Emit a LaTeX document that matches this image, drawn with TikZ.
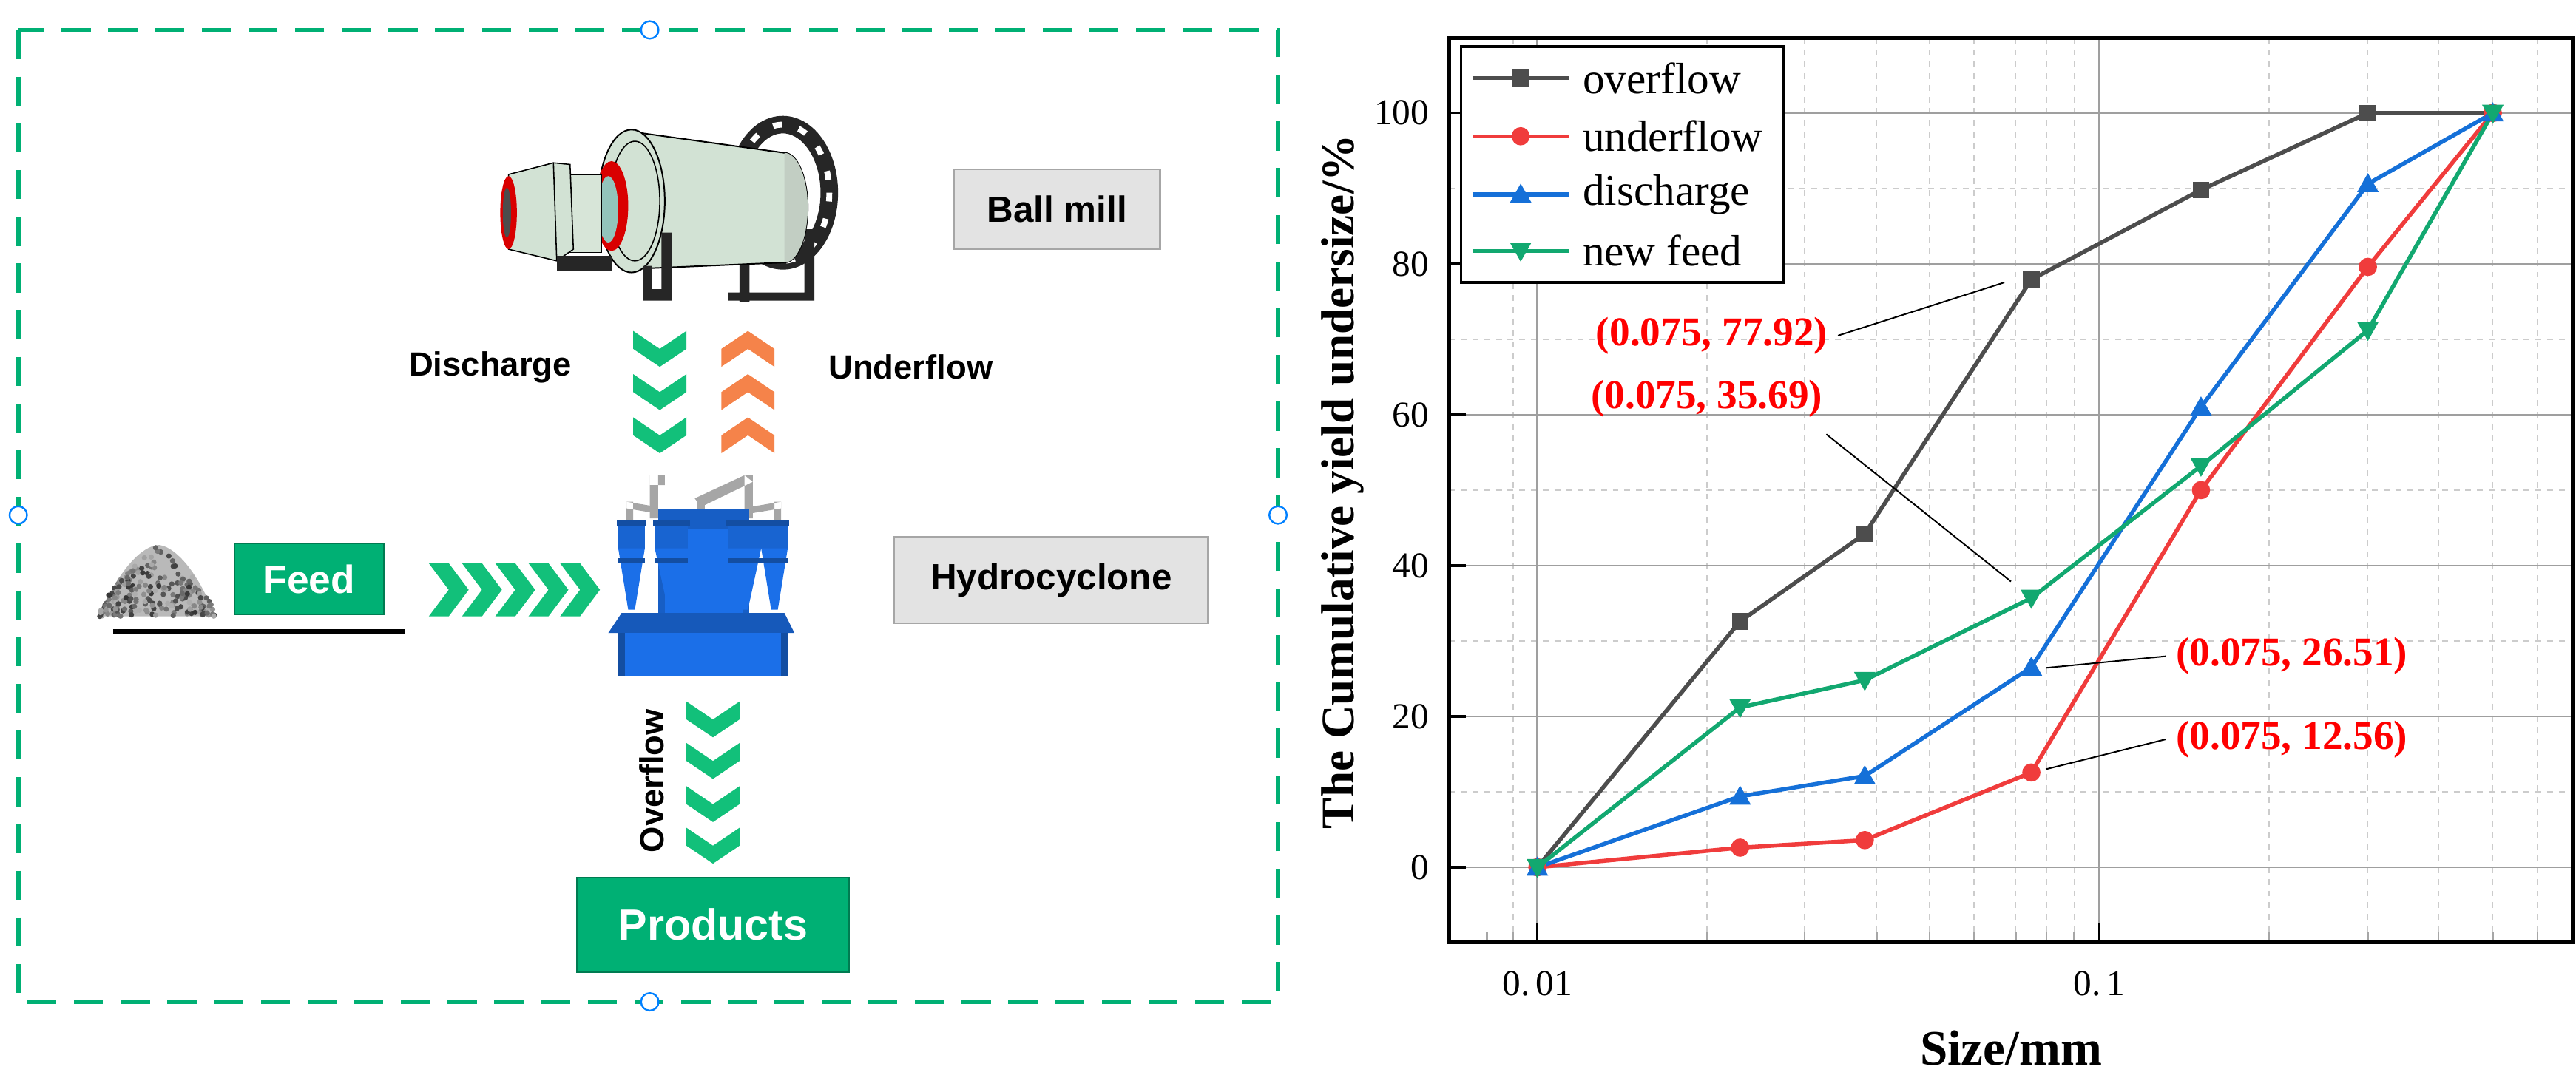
\documentclass[tikz,border=0pt]{standalone}
\usepackage{fontspec}
\setmainfont{Liberation Serif}
\setsansfont{Liberation Sans}
\usetikzlibrary{shapes.geometric}
\definecolor{fgreen}{HTML}{00B074}
\definecolor{chgreen}{HTML}{12C07A}
\definecolor{chorange}{HTML}{F5834A}
\definecolor{lblgray}{HTML}{E3E3E3}
\definecolor{ovc}{HTML}{4D4D4D}
\definecolor{unc}{HTML}{F03C3C}
\definecolor{dic}{HTML}{1570D8}
\definecolor{nfc}{HTML}{12A870}
\definecolor{mill}{HTML}{D2E2D4}
\definecolor{hblue}{HTML}{1B6FE8}
\tikzset{
  lbl/.style={draw=gray!70, fill=lblgray, line width=0.6pt, font=\sffamily\bfseries\fontsize{12.5}{14}\selectfont, inner sep=0pt},
  gbox/.style={fill=fgreen, draw=fgreen!70!black, line width=0.5pt, text=white, inner sep=0pt},
  flowtxt/.style={font=\sffamily\bfseries\fontsize{11.5}{13}\selectfont},
  chev/.pic={\fill (-12,-16) -- (0,-16) -- (12,0) -- (0,16) -- (-12,16) -- (0,0) -- cycle;},
  handle/.style={circle, draw=blue!50!cyan, fill=white, line width=0.6pt, minimum size=6pt, inner sep=0pt},
  serieL/.style={line width=1.4pt},
  tick/.style={font=\fontsize{12.5}{14}\selectfont},
  anno/.style={text=red, font=\bfseries\fontsize{14}{16}\selectfont},
  grid major/.style={gray!75, line width=0.6pt},
  grid minor/.style={gray!40, line width=0.4pt, dash pattern=on 2pt off 2pt},
}
\begin{document}
\begin{tikzpicture}[x=0.02cm,y=-0.02cm,
  declare function={lx(\v)=1602+339*log10(\v); ly(\v)=522-4.54*\v;}]
\useasboundingbox (0,0) rectangle (1550,647);
% ===== left panel =====
\draw[fgreen, line width=1.5pt, dash pattern=on 10pt off 6pt] (11,18) rectangle (769,603);
\node[handle] (h1) at (391,18) {};
\node[handle] (h2) at (11,310) {};
\node[handle] (h3) at (769,310) {};
\node[handle] (h4) at (391,603) {};
% ball mill
\begin{scope}
 \draw[black!85, line width=6pt] (471,116) ellipse [x radius=28, y radius=41];
 \draw[white, line width=2pt, dash pattern=on 3pt off 6pt] (471,116) ellipse [x radius=28, y radius=41];
 \fill[black!85] (445,140) rectangle (451,182) (438,176) rectangle (490,181) (484,138) rectangle (490,181);
 \filldraw[fill=mill, draw=black, line width=0.5pt] (378,79) -- (472,92) arc[start angle=-90, end angle=90, x radius=14, y radius=33] -- (378,162) -- cycle;
 \fill[mill!80!gray] (472,92) arc[start angle=-90, end angle=90, x radius=14, y radius=33] -- cycle;
 \filldraw[fill=mill, draw=black, line width=0.5pt] (380,121) ellipse [x radius=20, y radius=43];
 \draw[black, line width=0.4pt] (382,121) ellipse [x radius=15, y radius=36];
 \fill[red!85!black] (368,124) ellipse [x radius=10, y radius=27];
 \fill[mill!70!teal] (366,126) ellipse [x radius=6, y radius=20];
 \filldraw[fill=mill!90!white, draw=black, line width=0.4pt] (340,105) rectangle (362,152);
 \filldraw[fill=mill, draw=black, line width=0.4pt] (306,105) -- (333,98) -- (343,99) -- (345,150) -- (335,157) -- (306,150) -- cycle;
 \draw[black, line width=0.4pt] (333,98) -- (335,157);
 \fill[red!85!black] (306,128) ellipse [x radius=5, y radius=22];
 \fill[black!70] (305,128) ellipse [x radius=2.5, y radius=15];
 \fill[black!85] (335,154) rectangle (368,163);
 \fill[black!85] (398,140) rectangle (404,181) (387,174) rectangle (404,181) (387,160) rectangle (392,181);
\end{scope}
% hydrocyclone
\begin{scope}
 \fill[gray!70] (391,286) rectangle (396,312) (391,286) -- (400,286) -- (400,292) -- (391,292);
 \fill[gray!70] (448,286) rectangle (453,312) (418,300) -- (448,286) -- (453,290) -- (422,305) -- cycle;
 \fill[gray!70] (419,302) rectangle (424,346);
 \fill[gray!70] (377,302) rectangle (381,318) (377,302) -- (395,305) -- (395,309) -- (377,306);
 \fill[gray!70] (466,302) rectangle (470,318) (452,305) -- (470,302) -- (470,306) -- (452,309);
 \fill[hblue!85!black] (396,306) rectangle (451,369);
 \fill[hblue] (400,318) rectangle (447,369);
 \foreach \cx/\w in {380/8,404/10,448/10,466/8}{
   \fill[hblue!90!black] (\cx-\w,315) rectangle (\cx+\w,330);
   \fill[hblue] (\cx-\w,330) -- (\cx+\w,330) -- (\cx+2,367) -- (\cx-2,367) -- cycle;
   \fill[hblue!70!black] (\cx-\w-1,313) rectangle (\cx+\w+1,317);
   \fill[hblue!70!black] (\cx-\w,336) rectangle (\cx+\w,339);
 }
 \fill[hblue!80!black] (366,381) -- (374,369) -- (472,369) -- (478,381) -- cycle;
 \fill[hblue] (372,381) rectangle (474,407);
 \fill[hblue!70!black] (372,381) rectangle (376,407) (470,381) rectangle (474,407);
\end{scope}
% labels
\node[lbl, minimum width=124*0.02cm, minimum height=48*0.02cm] (ballmill) at (636,126) {Ball mill};
\node[lbl, minimum width=189*0.02cm, minimum height=52*0.02cm] (hydro) at (632.5,349) {Hydrocyclone};
\node[gbox, minimum width=90*0.02cm, minimum height=43*0.02cm, font=\sffamily\bfseries\fontsize{13.5}{15}\selectfont] (feed) at (186,348.5) {Feed};
\node[gbox, minimum width=164*0.02cm, minimum height=57*0.02cm, font=\sffamily\bfseries\fontsize{15}{17}\selectfont] (products) at (429,556.5) {Products};
\coordinate (fl1) at (68,380); \coordinate (fl2) at (244,380);
\draw[black, line width=1.4pt] (fl1) -- (fl2);
% pile
\begin{scope}
\pgfmathsetseed{7}
\fill[gray!55] (60,371) .. controls (70,345) and (85,328) .. (96,328) .. controls (108,330) and (122,350) .. (129,371) -- cycle;
\foreach \i in {1,...,220}{
  \pgfmathsetmacro{\u}{rnd}\pgfmathsetmacro{\v}{rnd}\pgfmathsetmacro{\g}{30+50*rnd}
  \fill[black!\g] ({60+69*\u},{371-\v*42*(1-abs(2*\u-1))^0.6}) circle (1.6);
}
\end{scope}
% chevrons
\foreach \x in {270,290,310,330,349}{\pic[chgreen] at (\x,355) {chev};}
\foreach \y in {210,236,262}{\pic[chgreen, rotate=-90, xscale=0.9] at (397,\y) {chev};}
\foreach \y in {210,236,262}{\pic[chorange, rotate=90, xscale=0.9] at (450,\y) {chev};}
\foreach \y in {433,458,484,509}{\pic[chgreen, rotate=-90, xscale=0.9] at (429,\y) {chev};}
\node[flowtxt] (disch) at (295,221) {Discharge};
\node[flowtxt] (under) at (548,221) {Underflow};
\node[flowtxt, rotate=90] (over) at (392,470) {Overflow};
% ===== chart =====
\foreach \v in {0.008,0.009,0.02,0.03,0.04,0.05,0.06,0.07,0.08,0.09,0.2,0.3,0.4,0.5,0.6}{
  \draw[grid minor] ({lx(\v)},23) -- ({lx(\v)},567);
  \draw[gray!70, line width=0.6pt] ({lx(\v)},567) -- ({lx(\v)},561);}
\foreach \v in {-10,10,30,50,70,90,110}{\draw[grid minor] (872,{ly(\v)}) -- (1548,{ly(\v)});}
\foreach \v in {0.01,0.1}{\draw[grid major] ({lx(\v)},23) -- ({lx(\v)},567);
  \draw[black, line width=0.8pt] ({lx(\v)},567) -- ({lx(\v)},556);}
\foreach \v in {0,20,...,100}{\draw[grid major] (872,{ly(\v)}) -- (1548,{ly(\v)});
  \draw[black, line width=0.8pt] (872,{ly(\v)}) -- (882,{ly(\v)});
  \node[tick, anchor=east] (yt\v) at (866,{ly(\v)}) {\v};}
\draw[black, line width=1.3pt] (872,23) rectangle (1548,567);
\node[tick] (xt1) at ({lx(0.01)},592) {0.\,01};
\node[tick] (xt2) at ({lx(0.1)},592) {0.\,1};
\node[font=\bfseries\fontsize{17}{19}\selectfont] (xl) at (1210,631) {Size/mm};
\node[font=\bfseries\fontsize{16}{18}\selectfont, rotate=90] (yl) at (808,290) {The Cumulative yield undersize/\%};
% series
\draw[serieL, ovc] plot coordinates {({lx(0.01)},{ly(0)}) ({lx(0.023)},{ly(32.6)}) ({lx(0.038)},{ly(44.2)}) ({lx(0.075)},{ly(77.92)}) ({lx(0.15)},{ly(89.8)}) ({lx(0.3)},{ly(100)}) ({lx(0.5)},{ly(100)})};
\draw[serieL, unc] plot coordinates {({lx(0.01)},{ly(0)}) ({lx(0.023)},{ly(2.6)}) ({lx(0.038)},{ly(3.6)}) ({lx(0.075)},{ly(12.56)}) ({lx(0.15)},{ly(50)}) ({lx(0.3)},{ly(79.6)}) ({lx(0.5)},{ly(100)})};
\draw[serieL, dic] plot coordinates {({lx(0.01)},{ly(0)}) ({lx(0.023)},{ly(9.4)}) ({lx(0.038)},{ly(12.1)}) ({lx(0.075)},{ly(26.51)}) ({lx(0.15)},{ly(61)}) ({lx(0.3)},{ly(90.6)}) ({lx(0.5)},{ly(100)})};
\draw[serieL, nfc] plot coordinates {({lx(0.01)},{ly(0)}) ({lx(0.023)},{ly(21.2)}) ({lx(0.038)},{ly(24.8)}) ({lx(0.075)},{ly(35.69)}) ({lx(0.15)},{ly(53.2)}) ({lx(0.3)},{ly(71.2)}) ({lx(0.5)},{ly(100)})};
\foreach \a/\b in {0.01/0,0.023/32.6,0.038/44.2,0.075/77.92,0.15/89.8,0.3/100,0.5/100}
  {\fill[ovc] ({lx(\a)-5},{ly(\b)-5}) rectangle ({lx(\a)+5},{ly(\b)+5});}
\foreach \a/\b in {0.01/0,0.023/2.6,0.038/3.6,0.075/12.56,0.15/50,0.3/79.6,0.5/100}
  {\fill[unc] ({lx(\a)},{ly(\b)}) circle (5.5);}
\foreach \a/\b in {0.01/0,0.023/9.4,0.038/12.1,0.075/26.51,0.15/61,0.3/90.6,0.5/100}
  {\fill[dic] ({lx(\a)},{ly(\b)-6.5}) -- ({lx(\a)+6.5},{ly(\b)+5}) -- ({lx(\a)-6.5},{ly(\b)+5}) -- cycle;}
\foreach \a/\b in {0.01/0,0.023/21.2,0.038/24.8,0.075/35.69,0.15/53.2,0.3/71.2,0.5/100}
  {\fill[nfc] ({lx(\a)},{ly(\b)+6.5}) -- ({lx(\a)+6.5},{ly(\b)-5}) -- ({lx(\a)-6.5},{ly(\b)-5}) -- cycle;}
% legend
\node[draw=black, line width=0.8pt, fill=white, minimum width=194*0.02cm, minimum height=142*0.02cm, inner sep=0pt] (leg) at (976,99) {};
\foreach \y/\c/\t/\m in {47/ovc/overflow/0,82/unc/underflow/1,117/dic/discharge/2,151/nfc/new feed/3}{
  \draw[serieL, \c] (886,\y) -- (944,\y);
  \ifcase\m \fill[\c] (910,\y-5) rectangle (920,\y+5);
  \or \fill[\c] (915,\y) circle (5.5);
  \or \fill[\c] (915,\y-6.5) -- (921.5,\y+5) -- (908.5,\y+5) -- cycle;
  \or \fill[\c] (915,\y+6.5) -- (921.5,\y-5) -- (908.5,\y-5) -- cycle;
  \fi
  \node[anchor=west, font=\fontsize{15}{17}\selectfont, inner sep=0pt] (lg\m) at (952,\y) {\t};
}
% annotations
\node[anno] (a1) at (1030,202) {(0.075, 77.92)};
\node[anno] (a2) at (1027,240) {(0.075, 35.69)};
\node[anno] (a3) at (1379,395) {(0.075, 26.51)};
\node[anno] (a4) at (1379,445) {(0.075, 12.56)};
\coordinate (p1) at (1206,170); \coordinate (p2) at (1210,350);
\coordinate (p3) at (1231,402); \coordinate (p4) at (1231,463);
\draw[black, line width=0.5pt] (a1.east) -- (p1);
\draw[black, line width=0.5pt] (a2.south east) ++(-4,4) -- (p2);
\draw[black, line width=0.5pt] (a3.west) -- (p3);
\draw[black, line width=0.5pt] (a4.west) -- (p4);
\end{tikzpicture}
\end{document}
